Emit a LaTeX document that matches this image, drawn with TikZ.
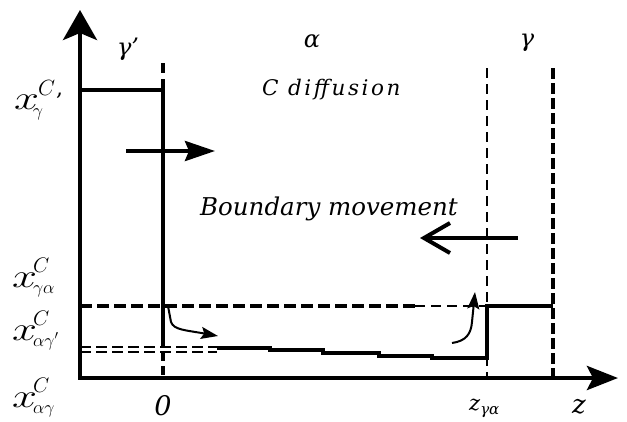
\RequirePackage{fix-cm}
\documentclass[tikz,border=0pt]{standalone}
\usepackage{fontspec}
\setmainfont{DejaVu Serif}
\usepackage{graphicx}
\usetikzlibrary{arrows.meta}
\newcommand{\xchar}{\scalebox{1.4}[1.05]{\fontsize{32}{32}\selectfont$x$}}
\newcommand{\xlabel}[2]{\xchar\kern-4pt\rlap{\raisebox{15pt}{\fontsize{21}{21}\selectfont$#1$}}\raisebox{-6pt}{\fontsize{18}{18}\selectfont$#2$}}
\tikzset{
  mlbl/.style={inner sep=0pt, anchor=base west},
  glbl/.style={inner sep=0pt, font=\fontsize{24}{24}\selectfont\itshape},
  txt/.style={inner sep=0pt, anchor=base west},
  axisline/.style={line width=4.5pt, line join=miter},
  wall/.style={line width=3.5pt},
  thickdash/.style={line width=4pt, dash pattern=on 12pt off 5pt},
  thindash/.style={line width=2pt, dash pattern=on 10pt off 6pt},
  dbldash/.style={line width=2.5pt, dash pattern=on 11pt off 5pt},
  profile/.style={line width=3.5pt, line join=miter},
  bigarrow/.style={line width=4pt},
  smallarrow/.style={line width=2pt, -{Stealth[length=17pt,width=12pt,inset=3pt]}},
}
\begin{document}
\begin{tikzpicture}[x=1pt,y=-1pt]
\useasboundingbox (0,0) rectangle (627,421);
% key coordinates
\coordinate (O) at (80,378);
\coordinate (ytip) at (80,10);
\coordinate (xtip) at (618,378);
% axes
\draw[axisline, {Stealth[length=30pt,width=34pt,inset=7pt]}-{Stealth[length=31pt,width=24pt,inset=6pt]}] (ytip) -- (O) -- (xtip);
% left gamma' region
\coordinate (g1) at (80,90);
\coordinate (g2) at (163,90);
\coordinate (b0top) at (163,63);
\coordinate (b0low) at (163,347);
\coordinate (b0dash) at (163,352);
\coordinate (b0axis) at (163,378);
\draw[wall] (g1) -- (g2) -- (b0low);
\draw[wall, dash pattern=on 10pt off 6pt] (b0top) -- (g2);
\draw[wall, dash pattern=on 9pt off 5pt] (b0dash) -- (b0axis);
% x_gamma-alpha dashed level
\coordinate (ga1) at (80,306);
\coordinate (ga2) at (415,306);
\coordinate (ga3) at (487,306);
\coordinate (ga4) at (553,306);
\draw[thickdash] (ga1) -- (ga2);
\draw[thindash] (ga2) -- (ga3);
% double dashed levels
\coordinate (d1a) at (80,347);
\coordinate (d1b) at (217,347);
\coordinate (d2a) at (80,352);
\coordinate (d2b) at (217,352);
\draw[dbldash] (d1a) -- (d1b);
\draw[dbldash] (d2a) -- (d2b);
% interface verticals
\coordinate (zga) at (487,68);
\coordinate (zgaax) at (487,378);
\coordinate (zr) at (553,68);
\coordinate (zrax) at (553,378);
\draw[thindash] (zga) -- (zgaax);
\draw[line width=4pt, dash pattern=on 11pt off 4pt] (zr) -- (zrax);
% concentration profile
\draw[profile] (217,348) -- (270,348) -- (270,350) -- (323,350) -- (323,353) -- (379,353) -- (379,356) -- (432,356) -- (432,358) -- (487,358) -- (ga3) -- (ga4);
% boundary movement arrows
\coordinate (ra1) at (126,151);
\coordinate (ra2) at (215,151);
\draw[bigarrow, -{Stealth[length=30pt,width=20pt,inset=4pt]}] (ra1) -- (ra2);
\coordinate (la1) at (518,238);
\coordinate (la2) at (420,238);
\draw[bigarrow, -{Straight Barb[length=26pt,width=30pt]}] (la1) -- (la2);
% small diffusion arrows
\coordinate (s1a) at (168,306);
\coordinate (s1b) at (218,336);
\draw[smallarrow] (s1a) -- (171,322) .. controls (174,330) and (185,330) .. (s1b);
\coordinate (s2a) at (452,343);
\coordinate (s2b) at (475,292);
\draw[smallarrow] (s2a) .. controls (466,341) and (471,334) .. (472,322) -- (s2b);
% phase labels
\node[glbl] (lgp) at (128,49) {γ'};
\node[glbl] (la) at (312,41) {α};
\node[glbl] (lg) at (527,43) {γ};
\node[txt, font=\fontsize{21.5}{21.5}\selectfont\itshape\addfontfeatures{LetterSpace=12}] (cdiff) at (262,95) {C diffusion};
\node[txt, font=\fontsize{24.5}{24.5}\selectfont\itshape] (bm) at (200,215) {Boundary movement};
% concentration labels
\node[mlbl] (xc1) at (14,109) {\xchar\kern-1pt\raisebox{14pt}{\fontsize{22}{22}\selectfont$C$\kern1pt,}\llap{\raisebox{-7pt}{\fontsize{18}{18}\selectfont$\gamma$}\kern20pt}};
\node[mlbl] (xc2) at (12,287) {\xlabel{C}{\gamma\alpha}};
\node[mlbl] (xc3) at (12,340) {\xlabel{C}{\alpha\gamma'}};
\node[mlbl] (xc4) at (12,407) {\xlabel{C}{\alpha\gamma}};
% axis labels
\node[inner sep=0pt, anchor=base, font=\fontsize{27}{27}\selectfont\itshape] (l0) at (163,415) {0};
\node[txt, font=\fontsize{21}{21}\selectfont\itshape] (lz) at (469,410) {z\raisebox{-4pt}{\fontsize{15}{15}\selectfont γα}};
\node[txt, font=\fontsize{26}{26}\selectfont\itshape] (lzz) at (572,413) {z};
\end{tikzpicture}
\end{document}
